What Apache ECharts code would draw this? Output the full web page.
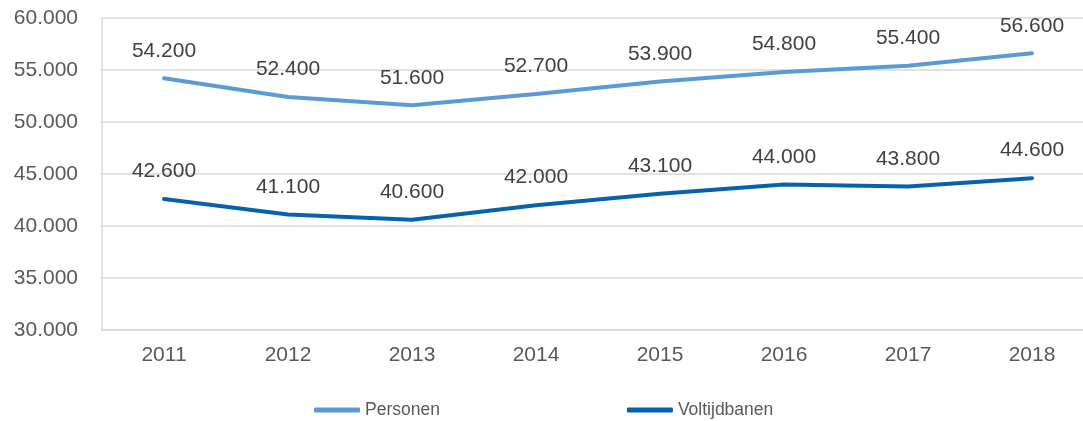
<!DOCTYPE html>
<html><head><meta charset="utf-8">
<script src="https://cdn.jsdelivr.net/npm/echarts@6/dist/echarts.min.js"></script>
<style>html,body{margin:0;padding:0;background:#fff;overflow:hidden}#c{width:1094px;height:421px}</style>
</head><body><div id="c"></div>
<script>
const categories = ['2011','2012','2013','2014','2015','2016','2017','2018'];
const personen = [54200, 52400, 51600, 52700, 53900, 54800, 55400, 56600];
const voltijdbanen = [42600, 41100, 40600, 42000, 43100, 44000, 43800, 44600];
const seriesNames = ['Personen', 'Voltijdbanen'];

const fmt = v => Number(v).toFixed(0).replace(/\B(?=(\d{3})+(?!\d))/g, '.');
const font = 'Liberation Sans, Arial, sans-serif';
const chart = echarts.init(document.getElementById('c'));
const labelCfg = {show: true, position: 'top', distance: 17, color: '#404040', fontSize: 21, fontFamily: font, formatter: p => fmt(p.value)};
chart.setOption({
  animation: false,
  grid: {left: 102, top: 18, right: 0, bottom: 91, containLabel: false},
  legend: {
    top: 401, left: 314, itemGap: 187, itemWidth: 46, itemHeight: 5, padding: 0,
    textStyle: {color: '#595959', fontSize: 17.5, fontFamily: font},
    data: seriesNames.map(n => ({name: n, icon: 'roundRect'}))
  },
  xAxis: {
    type: 'category', data: categories, boundaryGap: true,
    axisLine: {show: true, lineStyle: {color: '#d9d9d9', width: 1.5}},
    axisTick: {show: false},
    axisLabel: {color: '#595959', fontSize: 21, fontFamily: font, margin: 15}
  },
  yAxis: {
    type: 'value', min: 30000, max: 60000, interval: 5000,
    axisLine: {show: true, lineStyle: {color: '#d9d9d9', width: 1.5}},
    splitLine: {lineStyle: {color: '#d9d9d9', width: 1.5}},
    axisLabel: {color: '#595959', fontSize: 21, fontFamily: font, margin: 24, formatter: v => fmt(v)}
  },
  series: [
    {name: seriesNames[0], type: 'line', data: personen, symbol: 'circle', symbolSize: 0, showSymbol: true,
     lineStyle: {color: '#5B9BD5', width: 4, cap: 'round'}, itemStyle: {color: '#5B9BD5'}, label: labelCfg},
    {name: seriesNames[1], type: 'line', data: voltijdbanen, symbol: 'circle', symbolSize: 0, showSymbol: true,
     lineStyle: {color: '#0563AE', width: 4, cap: 'round'}, itemStyle: {color: '#0563AE'}, label: labelCfg}
  ]
});
</script></body></html>
